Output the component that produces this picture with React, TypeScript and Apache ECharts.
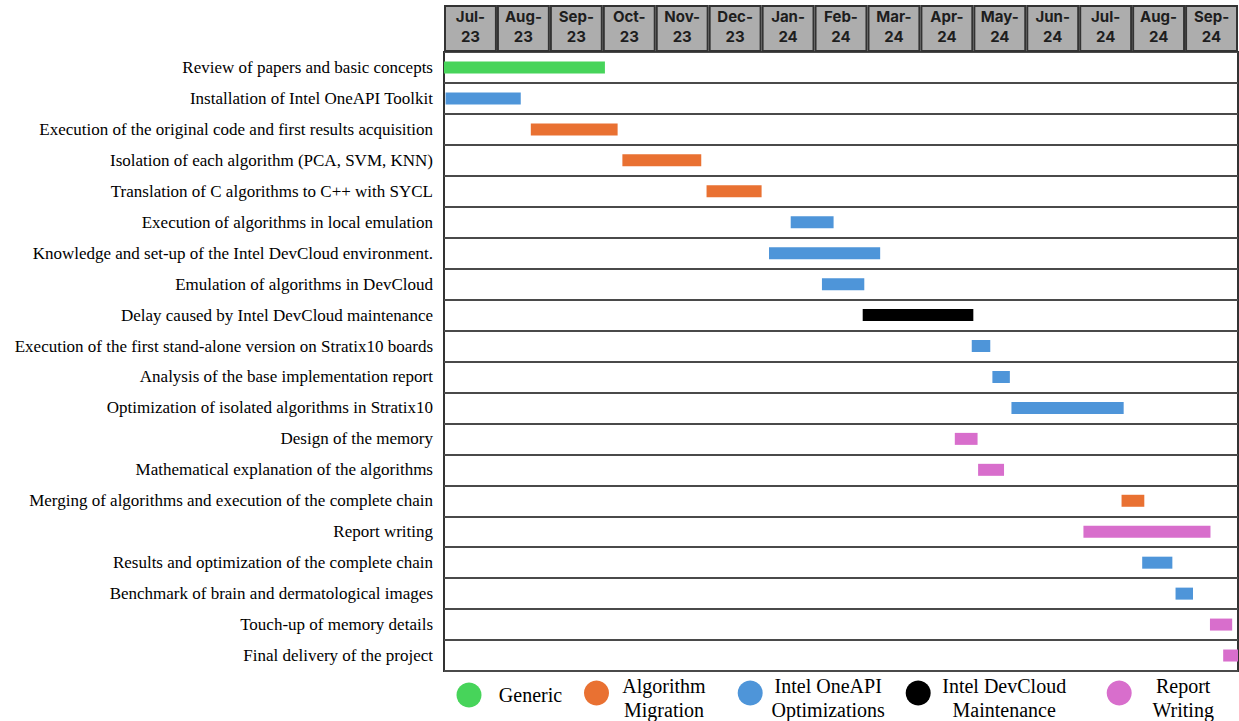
import React, { useEffect, useRef } from "react";
import * as echarts from "echarts";

const months = ["Jul-\n23", "Aug-\n23", "Sep-\n23", "Oct-\n23", "Nov-\n23", "Dec-\n23", "Jan-\n24", "Feb-\n24", "Mar-\n24", "Apr-\n24", "May-\n24", "Jun-\n24", "Jul-\n24", "Aug-\n24", "Sep-\n24"];

const tasks = [
  "Review of papers and basic concepts",
  "Installation of Intel OneAPI Toolkit",
  "Execution of the original code and first results acquisition",
  "Isolation of each algorithm (PCA, SVM, KNN)",
  "Translation of C algorithms to C++ with SYCL",
  "Execution of algorithms in local emulation",
  "Knowledge and set-up of the Intel DevCloud environment.",
  "Emulation of algorithms in DevCloud",
  "Delay caused by Intel DevCloud maintenance",
  "Execution of the first stand-alone version on Stratix10 boards",
  "Analysis of the base implementation report",
  "Optimization of isolated algorithms in Stratix10",
  "Design of the memory",
  "Mathematical explanation of the algorithms",
  "Merging of algorithms and execution of the complete chain",
  "Report writing",
  "Results and optimization of the complete chain",
  "Benchmark of brain and dermatological images",
  "Touch-up of memory details",
  "Final delivery of the project",
];

// start / end in months since the start of Jul-23
const starts = [0, 0.03, 1.64, 3.37, 4.96, 6.55, 6.14, 7.14, 7.91, 9.97, 10.36, 10.72, 9.65, 10.09, 12.8, 12.08, 13.19, 13.82, 14.47, 14.72];
const ends = [3.04, 1.45, 3.28, 4.86, 6.0, 7.36, 8.24, 7.94, 10.0, 10.32, 10.69, 12.84, 10.08, 10.58, 13.23, 14.48, 13.76, 14.15, 14.89, 15.0];
const taskPhase = [0, 2, 1, 1, 1, 2, 2, 2, 3, 2, 2, 2, 4, 4, 1, 4, 2, 2, 4, 4];

const phases = ["Generic", "Algorithm Migration", "Intel OneAPI Optimizations", "Intel DevCloud Maintenance", "Report Writing"];
const phaseLines = [["Generic"], ["Algorithm", "Migration"], ["Intel OneAPI", "Optimizations"], ["Intel DevCloud", "Maintenance"], ["Report", "Writing"]];
const phaseColors = ["#47d45a", "#e97132", "#4e95d9", "#000000", "#d86ecc"];

const GRID_LEFT = 444;
const GRID_RIGHT = 1;
const legendLeft = [456.5, 584, 737.7, 905.7, 1106.7];
const legendBlockW = [88, 100, 121, 137, 93];

export default function App() {
  const ref = useRef<HTMLDivElement>(null);
  useEffect(() => {
    if (!ref.current) return;
    const chart = echarts.init(ref.current, null, { renderer: "svg" });

    const series: any[] = [
      {
        type: "bar",
        xAxisIndex: 1,
        yAxisIndex: 1,
        data: months.map(() => 1),
        barWidth: "100%",
        silent: true,
        itemStyle: { color: "#adadad", borderColor: "#333333", borderWidth: 2 },
        label: {
          show: true,
          position: "inside",
          formatter: (p: any) => months[p.dataIndex],
          fontFamily: "Inter",
          fontWeight: "bold",
          fontSize: 15,
          lineHeight: 19.5,
          color: "#1e1e1e",
          offset: [0, -2],
        },
      },
    ];

    phases.forEach((ph, pi) => {
      const data: any[] = [];
      tasks.forEach((t, i) => {
        if (taskPhase[i] === pi) data.push([starts[i], ends[i], i]);
      });
      series.push({
        name: ph,
        type: "custom",
        xAxisIndex: 0,
        yAxisIndex: 0,
        encode: { x: [0, 1], y: 2 },
        itemStyle: { color: phaseColors[pi] },
        renderItem: (params: any, api: any) => {
          const s = api.value(0);
          const e = api.value(1);
          const y = api.value(2);
          const p0 = api.coord([s, y]);
          const p1 = api.coord([e, y]);
          return {
            type: "rect",
            shape: { x: p0[0], y: p0[1] - 6, width: p1[0] - p0[0], height: 12 },
            style: { fill: phaseColors[pi] },
          };
        },
        data,
      });
    });

    const legends = phases.map((ph, pi) => {
      const lines = phaseLines[pi];
      const multi = lines.length > 1;
      const base = {
        fontFamily: "Liberation Serif",
        fontSize: 20,
        lineHeight: 24,
        color: "#000",
        width: legendBlockW[pi],
        align: "center",
      };
      return {
        data: [{ name: ph, icon: "circle" }],
        left: legendLeft[pi],
        top: multi ? 668 : 682.5,
        padding: 0,
        itemWidth: 25,
        itemHeight: 25,
        selectedMode: false,
        formatter: () =>
          multi ? `{s| }\n{a|${lines[0]}}\n{a|${lines[1]}}` : `{a|${lines[0]}}`,
        textStyle: {
          rich: {
            a: base,
            s: { fontSize: 2, lineHeight: 9, width: legendBlockW[pi] },
          },
        },
      };
    });

    chart.setOption({
      animation: false,
      backgroundColor: "#ffffff",
      grid: [
        {
          left: GRID_LEFT,
          right: GRID_RIGHT,
          top: 52,
          height: 619,
          show: true,
          borderColor: "#333333",
          borderWidth: 2,
          backgroundColor: "#ffffff",
        },
        { left: GRID_LEFT, right: GRID_RIGHT, top: 5, height: 47 },
      ],
      xAxis: [
        { type: "value", gridIndex: 0, min: 0, max: 15, show: false },
        { type: "category", gridIndex: 1, data: months, show: false },
      ],
      yAxis: [
        {
          type: "category",
          gridIndex: 0,
          data: tasks,
          inverse: true,
          axisLine: { show: false },
          axisTick: { show: false },
          axisLabel: {
            fontFamily: "Liberation Serif",
            fontSize: 17,
            color: "#000",
            margin: 11,
          },
          splitLine: { show: true, interval: 0, lineStyle: { color: "#4a4a4a", width: 2 } },
        },
        { type: "value", gridIndex: 1, min: 0, max: 1, show: false },
      ],
      legend: legends,
      series,
    });
    return () => chart.dispose();
  }, []);
  return <div ref={ref} style={{ position: "absolute", left: 0, top: 0, width: 1239, height: 721 }} />;
}
